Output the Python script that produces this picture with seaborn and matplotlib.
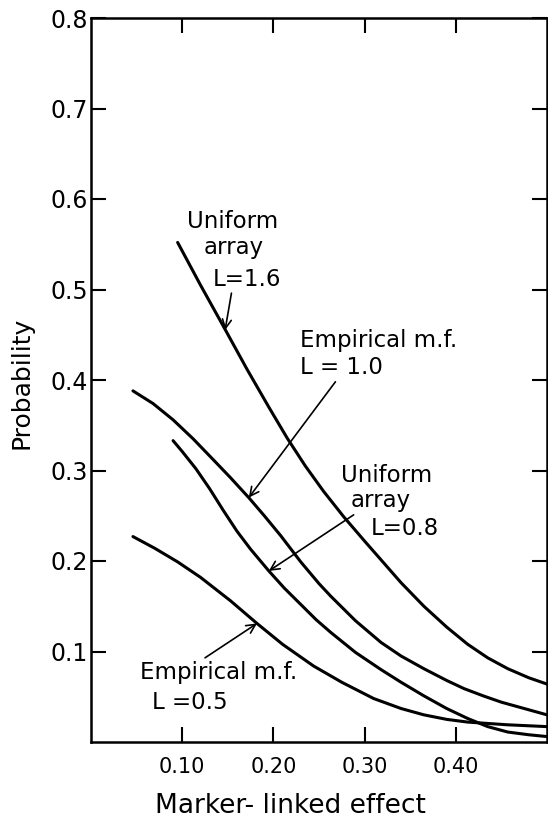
import matplotlib
matplotlib.use("Agg")
import matplotlib.pyplot as plt
import seaborn as sns
import pandas as pd

# ---- data ----
x_uni16 = [0.095, 0.12, 0.147, 0.171, 0.195, 0.215, 0.235, 0.255, 0.277, 0.30, 0.32,
           0.34, 0.365, 0.39, 0.413, 0.435, 0.457, 0.48, 0.50]
y_uni16 = [0.552, 0.505, 0.456, 0.412, 0.370, 0.336, 0.305, 0.277, 0.249, 0.222, 0.199,
           0.176, 0.150, 0.127, 0.108, 0.093, 0.081, 0.071, 0.064]

x_emp10 = [0.046, 0.068, 0.09, 0.112, 0.134, 0.153, 0.173, 0.19, 0.208, 0.23, 0.25,
           0.263, 0.29, 0.318, 0.34, 0.365, 0.39, 0.409, 0.43, 0.45, 0.475, 0.50]
y_emp10 = [0.388, 0.374, 0.356, 0.335, 0.312, 0.292, 0.270, 0.250, 0.228, 0.199, 0.175,
           0.161, 0.134, 0.110, 0.095, 0.081, 0.068, 0.059, 0.051, 0.044, 0.037, 0.030]

x_uni08 = [0.090, 0.10, 0.115, 0.13, 0.145, 0.16, 0.175, 0.195, 0.212, 0.23, 0.247,
           0.263, 0.29, 0.318, 0.34, 0.365, 0.39, 0.413, 0.435, 0.457, 0.48, 0.50]
y_uni08 = [0.333, 0.321, 0.302, 0.280, 0.256, 0.233, 0.213, 0.189, 0.170, 0.152, 0.135,
           0.121, 0.099, 0.080, 0.066, 0.051, 0.037, 0.026, 0.017, 0.011, 0.008, 0.006]

x_emp05 = [0.046, 0.07, 0.095, 0.12, 0.153, 0.182, 0.21, 0.244, 0.275, 0.31, 0.34,
           0.365, 0.39, 0.413, 0.457, 0.50]
y_emp05 = [0.227, 0.214, 0.199, 0.182, 0.156, 0.131, 0.108, 0.084, 0.066, 0.048, 0.037,
           0.030, 0.025, 0.022, 0.019, 0.017]

x_ticks = [0.10, 0.20, 0.30, 0.40]
x_ticklabels = ["0.10", "0.20", "0.30", "0.40"]
y_ticks = [0.1, 0.2, 0.3, 0.4, 0.5, 0.6, 0.7, 0.8]
y_ticklabels = ["0.1", "0.2", "0.3", "0.4", "0.5", "0.6", "0.7", "0.8"]

label_uni16 = ["Uniform", "array", "L=1.6"]
label_emp10 = ["Empirical m.f.", "L = 1.0"]
label_uni08 = ["Uniform", "array", "L=0.8"]
label_emp05 = ["Empirical m.f.", "L =0.5"]

# ---- plotting ----
sns.set_style("ticks")
plt.rcParams["font.family"] = ["DejaVu Sans"]
plt.rcParams["text.color"] = "black"
plt.rcParams["axes.labelcolor"] = "black"
plt.rcParams["xtick.color"] = "black"
plt.rcParams["ytick.color"] = "black"
plt.rcParams["axes.edgecolor"] = "black"

fig = plt.figure(figsize=(5.48, 8.19), dpi=100)
ax = fig.add_axes([91 / 548, 77 / 819, 456 / 548, 724 / 819])

curves = [(x_uni16, y_uni16), (x_emp10, y_emp10), (x_uni08, y_uni08), (x_emp05, y_emp05)]
for xs, ys in curves:
    df = pd.DataFrame({"x": xs, "y": ys})
    sns.lineplot(data=df, x="x", y="y", ax=ax, color="black", linewidth=2.2,
                 sort=False, estimator=None, solid_joinstyle="round",
                 solid_capstyle="round")

ax.set_xlim(0, 0.5)
ax.set_ylim(0, 0.8)
ax.set_xticks(x_ticks)
ax.set_xticklabels(x_ticklabels)
ax.set_yticks(y_ticks)
ax.set_yticklabels(y_ticklabels)
ax.tick_params(axis="both", direction="in", length=11, width=1.5,
               top=True, right=True, labeltop=False, labelright=False)
ax.tick_params(axis="x", labelsize=15, pad=11)
ax.tick_params(axis="y", labelsize=17, pad=2)
for sp in ax.spines.values():
    sp.set_linewidth(1.8)
    sp.set_color("black")
    sp.set_visible(True)

ax.set_xlabel("Marker- linked effect", fontsize=19)
ax.set_ylabel("Probability", fontsize=18)
ax.xaxis.set_label_coords(0.438, -0.070)
ax.yaxis.set_label_coords(-0.125, 0.496)

arrow = dict(arrowstyle="->", color="black", lw=1.2, shrinkA=0, shrinkB=0,
             mutation_scale=16)
fs = 16.5

def put_lines(lines, xs, ys):
    for t, xx, yy in zip(lines, xs, ys):
        ax.text(xx, yy, t, fontsize=fs, ha="left", va="center")

put_lines(label_uni16, [0.1055, 0.1231, 0.1330], [0.575, 0.546, 0.511])
ax.annotate("", xy=(0.147, 0.455), xytext=(0.154, 0.496), arrowprops=arrow)

put_lines(label_emp10, [0.2297, 0.2297], [0.444, 0.414])
ax.annotate("", xy=(0.173, 0.270), xytext=(0.268, 0.398), arrowprops=arrow)

put_lines(label_uni08, [0.2736, 0.2846, 0.3066], [0.295, 0.267, 0.236])
ax.annotate("", xy=(0.195, 0.189), xytext=(0.288, 0.251), arrowprops=arrow)

put_lines(label_emp05, [0.0538, 0.0670], [0.077, 0.044])
ax.annotate("", xy=(0.182, 0.131), xytext=(0.125, 0.093), arrowprops=arrow)

fig.savefig("out.png", dpi=100)
